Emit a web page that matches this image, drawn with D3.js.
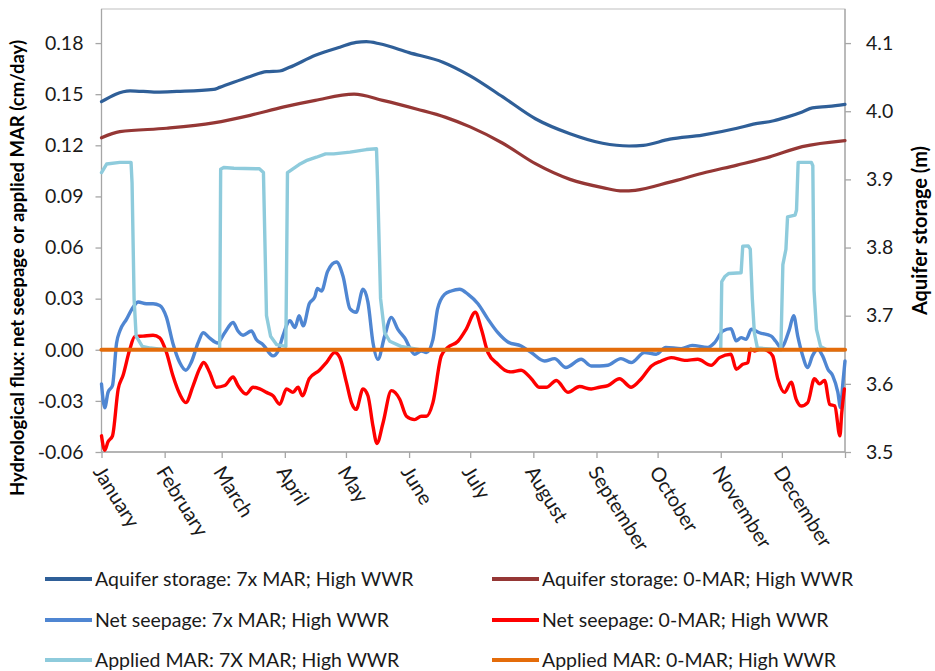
<!DOCTYPE html>
<html>
<head>
<meta charset="utf-8">
<script src="https://cdn.jsdelivr.net/npm/d3@7"></script>
<style>
  body { margin: 0; background: #fff; }
  svg { display: block; font-family: Lato, "Open Sans", sans-serif; }
</style>
</head>
<body>
<svg id="chart" width="935" height="671"></svg>
<script>
// ---- Axis categories and ticks ----
const monthNames = ["January", "February", "March", "April", "May", "June", "July",
  "August", "September", "October", "November", "December"];
const monthStartDays = [0, 31, 59, 90, 120, 151, 181, 212, 243, 273, 304, 334];
const fluxTicks = [-0.06, -0.03, 0.00, 0.03, 0.06, 0.09, 0.12, 0.15, 0.18];
const storageTicks = [3.5, 3.6, 3.7, 3.8, 3.9, 4.0, 4.1];

// ---- Aquifer storage (m), secondary axis ----
const storage7xDay = [0, 14, 27, 37, 55, 58, 73, 81, 87.5, 92, 105, 117, 125, 130, 136.5, 151, 167.6, 181,
  197, 213, 230, 246, 259, 266, 279, 295, 312, 320, 330, 336, 344, 349, 357, 365];
const storage7x = [4.014, 4.030, 4.028, 4.029, 4.032, 4.035, 4.051, 4.058, 4.059, 4.064, 4.082, 4.094, 4.101, 4.102, 4.099, 4.086, 4.072, 4.052,
  4.021, 3.989, 3.967, 3.953, 3.949, 3.950, 3.959, 3.965, 3.975, 3.981, 3.986, 3.991, 3.999, 4.005, 4.007, 4.010];

const storage0Day = [0, 9, 32, 55, 73, 89, 105, 124, 138, 155, 169, 181, 197, 213, 230, 246, 256, 262, 279, 295, 312, 328, 344, 365];
const storage0 = [3.961, 3.970, 3.975, 3.983, 3.994, 4.006, 4.016, 4.025, 4.016, 4.003, 3.991, 3.977, 3.953, 3.923, 3.900, 3.888, 3.883, 3.884,
  3.896, 3.909, 3.921, 3.933, 3.948, 3.957];

// ---- Net seepage (cm/day) ----
const seepage7xDay = [0, 1.6, 3.2, 5.4, 7.4, 9, 12.3, 15.5, 18, 22, 25.3, 28.6, 31.9, 35, 38.4, 41.4, 44, 47.4, 49.9, 53, 57,
  60.5, 64.6, 67, 69.5, 73.6, 76, 79.3, 84.2, 86.7, 89, 92.5, 95, 97, 99, 102, 104.7, 106, 108, 111, 115.3, 118.6, 122,
  125, 128.4, 130.8, 133.3, 135.7, 139, 142.3, 145.5, 148.8, 153.7, 157, 159.5, 162.7, 165, 168.4, 171.7, 175.8, 180,
  184.8, 189.7, 194.6, 199.5, 206, 211, 217.5, 222.4, 228, 235.5, 240.4, 244.5, 248.6, 255, 260, 266.6, 272.3, 277,
  284.6, 290, 297.6, 301, 305, 309, 311.6, 314, 316.5, 319, 323, 328.8, 331, 333.6, 337.7, 339.8, 341.8, 344, 346.7,
  349, 351.6, 354, 356.6, 359, 361.5, 362.8, 364, 365];
const seepage7x = [-0.020, -0.034, -0.025, -0.021, 0.004, 0.011, 0.018, 0.025, 0.028, 0.027, 0.027, 0.026, 0.019, 0.004, -0.0075, -0.012, -0.0075, 0.004, 0.010, 0.007, 0.004,
  0.010, 0.016, 0.011, 0.0085, 0.011, 0.006, 0.003, -0.0036, -0.0007, 0.008, 0.017, 0.013, 0.020, 0.014, 0.027, 0.031, 0.036, 0.0345, 0.046, 0.0515, 0.043, 0.024,
  0.022, 0.0355, 0.028, 0.004, -0.0056, 0.008, 0.019, 0.012, 0.007, -0.0026, -0.0007, -0.0016, 0.006, 0.024, 0.0325, 0.0345, 0.0355, 0.0325,
  0.027, 0.018, 0.010, 0.0046, 0.0022, -0.0016, -0.0066, -0.0052, -0.0104, -0.0056, -0.0095, -0.0095, -0.0091, -0.0052, -0.0075, -0.0016, -0.0026, 0.0013,
  0.0007, 0.0026, 0.0013, 0.0042, 0.011, 0.0124, 0.0052, 0.0071, 0.0062, 0.012, 0.010, 0.008, 0.005, 0.0013, 0.012, 0.020, 0.008, -0.0026, -0.0104,
  -0.0036, 0.0003, -0.0036, -0.0114, -0.0153, -0.025, -0.034, -0.019, -0.0066];

const seepage0Day = [0, 1.6, 3.2, 5.4, 8.2, 10.6, 13.9, 16.3, 20.4, 25.3, 28.6, 31.9, 35, 38.4, 41.4, 45, 48.2, 50.2, 53, 56.4,
  60.5, 64.6, 67, 71, 74.4, 77.7, 81, 84.2, 87.5, 90.8, 94, 96.5, 98.6, 102, 107, 110.4, 114.5, 117, 120.2, 122.7, 125,
  128.4, 130.8, 133.3, 135.2, 138.2, 142.3, 146.4, 149.7, 153.7, 157, 159.5, 162.7, 166.8, 170, 175, 179, 183.5, 186.5,
  189.7, 194.6, 198, 201, 206, 211, 215, 218.4, 223.3, 229, 234.7, 240.4, 244.5, 248.6, 254.3, 260, 265, 270, 274.8,
  279.7, 286.2, 292.7, 299.3, 303.4, 309, 311.6, 314.8, 317.3, 318.6, 320.6, 323.8, 327, 329.5, 332, 335.3, 338.6, 341,
  343.5, 346.7, 350, 352.5, 355, 357.5, 360, 362.5, 363.4, 364.7];
const seepage0 = [-0.0505, -0.059, -0.054, -0.0505, -0.023, -0.015, 0.0003, 0.0077, 0.008, 0.0085, 0.007, -0.0016, -0.015, -0.026, -0.031, -0.021, -0.011, -0.0075, -0.013, -0.022,
  -0.021, -0.016, -0.021, -0.026, -0.022, -0.023, -0.025, -0.027, -0.032, -0.023, -0.025, -0.022, -0.027, -0.017, -0.012, -0.0075, -0.0016, -0.0046, -0.019, -0.031, -0.035,
  -0.023, -0.027, -0.045, -0.055, -0.043, -0.024, -0.029, -0.039, -0.041, -0.039, -0.039, -0.031, -0.0036, 0.0013, 0.005, 0.012, 0.022, 0.012,
  -0.0016, -0.0085, -0.012, -0.013, -0.012, -0.017, -0.022, -0.022, -0.018, -0.025, -0.0216, -0.023, -0.022, -0.021, -0.017, -0.022, -0.017, -0.0095, -0.0066,
  -0.0046, -0.0062, -0.0056, -0.0091, -0.0046, -0.0026, -0.0114, -0.0085, -0.0075, 0.0003, -0.0007, 0.0007, -0.0007, -0.0036, -0.017, -0.025, -0.019, -0.029,
  -0.033, -0.031, -0.017, -0.020, -0.018, -0.032, -0.033, -0.0505, -0.037, -0.023];

// ---- Applied MAR (cm/day) ----
const appliedMar7xDay = [0, 2.5, 9, 14.5, 15, 16, 17, 20, 24, 28, 32, 58, 58.5, 60, 65, 77.5, 79.5, 81, 83, 86, 90.5,
  91.3, 97, 100.5, 105.5, 110, 114, 122, 130, 135, 135.5, 137, 139, 141.5, 147, 152, 156, 304, 304.5, 306, 308, 314,
  314.8, 317.5, 318.5, 319.5, 320.5, 322, 333.5, 334.5, 336, 336.8, 340.5, 341.2, 342, 348.5, 349.2, 349.8, 351, 353, 356, 365];
const appliedMar7x = [0.104, 0.109, 0.110, 0.110, 0.098, 0.030, 0.008, 0.002, 0.001, 0.0005, 0, 0, 0.106, 0.107, 0.1065, 0.1062, 0.104, 0.020, 0.008, 0.003, 0.002,
  0.104, 0.1087, 0.111, 0.113, 0.115, 0.115, 0.116, 0.1175, 0.118, 0.100, 0.030, 0.010, 0.005, 0.002, 0.001, 0, 0, 0.040, 0.043, 0.0448, 0.0452,
  0.0608, 0.061, 0.059, 0.030, 0.010, 0.001, 0, 0.050, 0.059, 0.078, 0.079, 0.082, 0.110, 0.110, 0.108, 0.035, 0.012, 0.002, 0, 0];

const appliedMar0Day = [0, 365];
const appliedMar0 = [0, 0];

// ---- Layout ----
const plot = { left: 101.5, right: 845, top: 9, bottom: 452 };

const svg = d3.select("#chart");

const x = d3.scaleLinear().domain([0, 365]).range([plot.left, plot.right]);
const yFlux = d3.scaleLinear().domain([-0.06, 0.20]).range([plot.bottom, plot.top]);
const yStore = d3.scaleLinear().domain([3.5, 4.15]).range([plot.bottom, plot.top]);

// plain hyphen for negative tick labels
const locale = d3.formatLocale({ decimal: ".", thousands: ",", grouping: [3], currency: ["", ""], minus: "-" });

const axisGrey = "#a6a6a6";
const textColour = "#1a1a1a";

// Plot-area frame
svg.append("rect")
  .attr("x", plot.left).attr("y", plot.top)
  .attr("width", plot.right - plot.left).attr("height", plot.bottom - plot.top)
  .attr("fill", "none").attr("stroke", "#bfbfbf").attr("stroke-width", 1);

// Left (flux) axis
const leftAxis = svg.append("g")
  .attr("transform", `translate(${plot.left},0)`)
  .call(d3.axisLeft(yFlux).tickValues(fluxTicks).tickFormat(locale.format(".2f")).tickSize(6).tickPadding(12));

// Right (storage) axis
const rightAxis = svg.append("g")
  .attr("transform", `translate(${plot.right},0)`)
  .call(d3.axisRight(yStore).tickValues(storageTicks).tickFormat(locale.format(".1f")).tickSize(6).tickPadding(15));

// Bottom (month) axis
const bottomAxis = svg.append("g")
  .attr("transform", `translate(0,${plot.bottom})`)
  .call(d3.axisBottom(x).tickValues(monthStartDays.concat([365])).tickFormat(() => "").tickSize(6));

[leftAxis, rightAxis, bottomAxis].forEach(g => {
  g.select(".domain").attr("stroke", axisGrey).attr("stroke-width", 1.3);
  g.selectAll(".tick line").attr("stroke", axisGrey).attr("stroke-width", 1.3);
  g.selectAll(".tick text").attr("fill", textColour).attr("font-size", 19.5)
    .attr("font-family", "Lato, 'Open Sans', sans-serif");
});
rightAxis.select(".domain").attr("d", `M0,${plot.top}V${plot.bottom}`);
leftAxis.select(".domain").attr("d", `M0,${plot.top}V${plot.bottom}`);
bottomAxis.select(".domain").attr("d", `M${plot.left},0H${plot.right}`);

// Rotated month labels
svg.append("g").selectAll("text")
  .data(monthNames)
  .join("text")
  .attr("transform", (d, i) => `translate(${x(monthStartDays[i]) - 3},${plot.bottom + 16}) rotate(58)`)
  .attr("dy", "0.35em")
  .attr("font-size", 20)
  .attr("fill", textColour)
  .text(d => d);

// Axis titles
svg.append("text")
  .attr("transform", `translate(24,268) rotate(-90)`)
  .attr("text-anchor", "middle")
  .attr("font-size", 18.5).attr("font-weight", "bold").attr("fill", "#000")
  .text("Hydrological flux: net seepage or applied MAR (cm/day)");

svg.append("text")
  .attr("transform", `translate(927,${(plot.top + plot.bottom) / 2}) rotate(-90)`)
  .attr("text-anchor", "middle")
  .attr("font-size", 20).attr("font-weight", "bold").attr("fill", "#000")
  .text("Aquifer storage (m)");

// ---- Series ----
const series = [
  { name: "Aquifer storage: 7x MAR; High WWR", days: storage7xDay, values: storage7x, y: yStore, color: "#2f5f98", width: 3.2, curve: d3.curveMonotoneX },
  { name: "Aquifer storage: 0-MAR; High WWR", days: storage0Day, values: storage0, y: yStore, color: "#953735", width: 3.2, curve: d3.curveMonotoneX },
  { name: "Net seepage: 7x MAR; High WWR", days: seepage7xDay, values: seepage7x, y: yFlux, color: "#4f86d2", width: 3.4, curve: d3.curveMonotoneX },
  { name: "Net seepage: 0-MAR; High WWR", days: seepage0Day, values: seepage0, y: yFlux, color: "#ff0000", width: 3.4, curve: d3.curveMonotoneX },
  { name: "Applied MAR: 7X MAR; High WWR", days: appliedMar7xDay, values: appliedMar7x, y: yFlux, color: "#8ecbdc", width: 3.4, curve: d3.curveLinear },
  { name: "Applied MAR: 0-MAR; High WWR", days: appliedMar0Day, values: appliedMar0, y: yFlux, color: "#e46c0a", width: 4.2, curve: d3.curveLinear }
];

const lines = svg.append("g");
series.forEach(s => {
  const pts = s.days.map((d, i) => [d, s.values[i]]);
  const gen = d3.line().x(p => x(p[0])).y(p => s.y(p[1])).curve(s.curve);
  lines.append("path")
    .datum(pts)
    .attr("d", gen)
    .attr("fill", "none")
    .attr("stroke", s.color)
    .attr("stroke-width", s.width)
    .attr("stroke-linejoin", "round")
    .attr("stroke-linecap", "round");
});

// ---- Legend (two columns, three rows) ----
const legendCols = [45, 492];
const legendRows = [579, 620, 660];
const legend = svg.append("g");
series.forEach((s, k) => {
  const cx = legendCols[k % 2];
  const cy = legendRows[Math.floor(k / 2)];
  legend.append("line")
    .attr("x1", cx).attr("x2", cx + 47)
    .attr("y1", cy).attr("y2", cy)
    .attr("stroke", s.color).attr("stroke-width", 4);
  legend.append("text")
    .attr("x", cx + 50).attr("y", cy)
    .attr("dy", "0.35em")
    .attr("font-size", 19.5)
    .attr("fill", textColour)
    .text(s.name);
});
</script>
</body>
</html>
